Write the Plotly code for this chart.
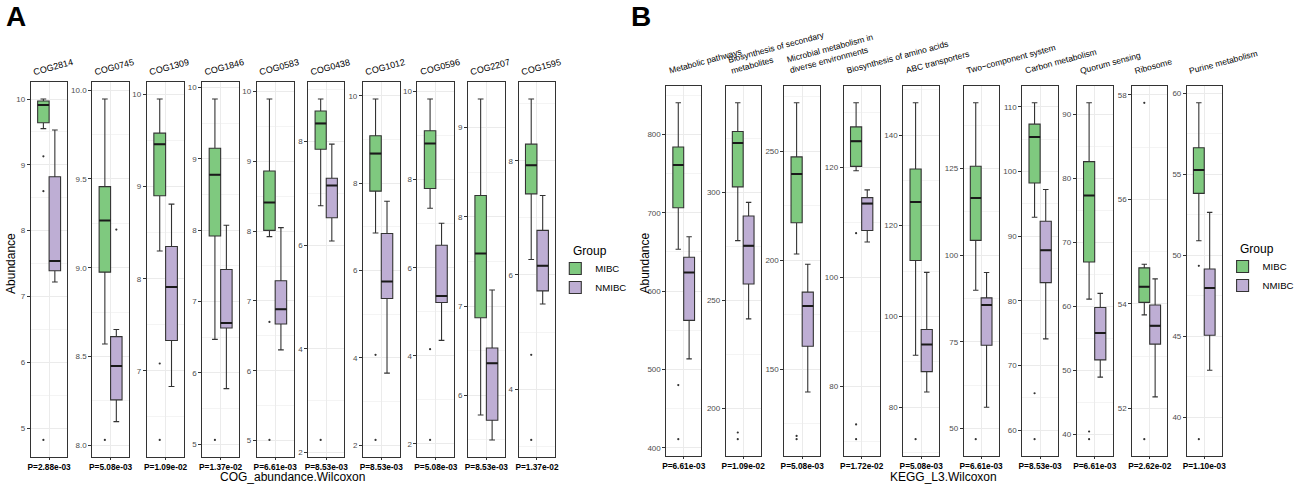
import plotly.graph_objects as go

# ---------------- DATA ----------------
cog_names = ["COG2814", "COG0745", "COG1309", "COG1846", "COG0583",
             "COG0438", "COG1012", "COG0596", "COG2207", "COG1595"]
cog_pvals = ["P=2.88e-03", "P=5.08e-03", "P=1.09e-02", "P=1.37e-02", "P=6.61e-03",
             "P=8.53e-03", "P=8.53e-03", "P=5.08e-03", "P=8.53e-03", "P=1.37e-02"]
cog_ystep = [1, 0.5, 1, 1, 1, 2, 2, 2, 1, 2]

cog_mibc_low = [9.55, 8.57, 8.30, 6.47, 7.92, 6.76, 6.86, 7.35, 5.78, 6.27]
cog_mibc_q1 = [9.64, 8.975, 8.90, 7.92, 8.01, 7.85, 7.82, 7.80, 6.87, 7.42]
cog_mibc_med = [9.91, 9.266, 9.46, 8.78, 8.41, 8.35, 8.68, 8.82, 7.59, 7.92]
cog_mibc_q3 = [9.97, 9.457, 9.58, 9.15, 8.86, 8.59, 9.09, 9.11, 8.24, 8.29]
cog_mibc_high = [10.0, 9.95, 9.95, 9.84, 9.89, 8.82, 9.93, 9.83, 9.32, 9.08]
cog_mibc_out = [[9.13, 8.60, 4.82], [8.03], [7.08, 6.25], [5.06], [6.70, 5.01],
                [2.24], [4.07, 2.12], [4.15, 2.09], [], [4.60, 3.11]]

cog_nmibc_low = [7.22, 8.133, 6.83, 5.78, 6.30, 6.08, 3.65, 4.35, 5.50, 5.49]
cog_nmibc_q1 = [7.39, 8.256, 7.33, 6.63, 6.67, 6.53, 5.36, 5.21, 5.72, 5.72]
cog_nmibc_med = [7.54, 8.447, 7.91, 6.70, 6.88, 7.15, 5.75, 5.36, 6.36, 6.16]
cog_nmibc_q3 = [8.82, 8.612, 8.35, 7.45, 7.29, 7.29, 6.85, 6.51, 6.53, 6.78]
cog_nmibc_high = [9.53, 8.652, 8.81, 8.07, 8.05, 7.95, 7.59, 7.01, 7.18, 7.39]
cog_nmibc_out = [[], [9.215], [], [], [], [], [], [], [], []]

kegg_names = ["Metabolic pathways", "Biosynthesis of secondary<br>metabolites",
              "Microbial metabolism in<br>diverse environments", "Biosynthesis of amino acids",
              "ABC transporters", "Two\u2212component system", "Carbon metabolism",
              "Quorum sensing", "Ribosome", "Purine metabolism"]
kegg_pvals = ["P=6.61e-03", "P=1.09e-02", "P=5.08e-03", "P=1.72e-02", "P=5.08e-03",
              "P=6.61e-03", "P=8.53e-03", "P=6.61e-03", "P=2.62e-02", "P=1.10e-03"]
kegg_ystep = [100, 50, 50, 20, 20, 25, 10, 10, 2, 5]

kegg_mibc_low = [653.5, 277.7, 202.8, 119.4, 91.4, 89.9, 92.9, 61.1, 53.79, 50.9]
kegg_mibc_q1 = [706.4, 302.6, 217.1, 120.2, 112.3, 104.3, 98.2, 66.9, 54.03, 53.82]
kegg_mibc_med = [761.0, 322.9, 239.5, 124.8, 125.2, 116.5, 105.3, 77.3, 54.33, 55.27]
kegg_mibc_q3 = [783.9, 328.2, 247.3, 127.4, 132.5, 125.7, 107.3, 82.6, 54.69, 56.64]
kegg_mibc_high = [840.3, 341.5, 272.1, 131.8, 147.1, 144.0, 110.6, 91.8, 54.76, 59.41]
kegg_mibc_out = [[480.2, 411.2], [188.9, 185.8], [119.4, 117.9], [108.0, 73.1, 70.4],
                 [72.9], [46.9], [65.7, 58.6], [40.4, 39.2], [57.85, 51.41], [49.35, 38.65]]

kegg_nmibc_low = [513.7, 241.5, 139.5, 106.4, 83.3, 56.1, 74.1, 48.9, 52.22, 42.9]
kegg_nmibc_q1 = [562.8, 257.6, 160.5, 108.5, 87.8, 74.0, 82.8, 51.6, 53.23, 45.06]
kegg_nmibc_med = [623.8, 275.3, 178.9, 113.4, 93.8, 85.6, 87.8, 55.8, 53.58, 47.98]
kegg_nmibc_q3 = [643.3, 289.1, 185.3, 114.5, 97.1, 87.7, 92.3, 59.8, 53.98, 49.15]
kegg_nmibc_high = [669.5, 295.4, 198.1, 115.9, 109.7, 95.0, 97.2, 62.0, 54.48, 52.65]
kegg_nmibc_out = [[], [], [], [], [], [], [], [], [], []]

groups = ["MIBC", "NMIBC"]

# ---------------- STYLE / LAYOUT ----------------
W, H = 1299, 484
FONT = "Liberation Sans, Arial, sans-serif"
COLORS = {"MIBC": "#7FC97F", "NMIBC": "#BEAED4"}
EDGE = "#333333"
BOX_W = 0.375
POS = {"MIBC": 1 - BOX_W / 2, "NMIBC": 1 + BOX_W / 2}

A_left = [27, 89, 144, 200, 255, 307, 362, 417, 468, 519]
A_right = [64, 126, 182, 237, 292, 343, 399, 454, 505, 556]
B_left = [668, 728, 787, 847, 907, 968, 1027, 1082, 1138, 1193]
B_right = [703, 763, 823, 883, 943, 1003, 1063, 1118, 1173, 1228]

fig = go.Figure()
layout_axes = {}
annotations = []


def px_x(p):
    return p / W


def px_y(p):
    return 1 - p / H


def add_facet(k, left, right, top, bot, name, pval, step, stats, outs, legend, show, strip_size, strip_gap):
    xn = "x" if k == 1 else f"x{k}"
    yn = "y" if k == 1 else f"y{k}"
    allv = []
    for g in groups:
        lo, q1, med, q3, hi = stats[g]
        allv += [lo, q1, med, q3, hi] + list(outs[g])
        fig.add_trace(go.Box(
            x=[POS[g]], q1=[q1], median=[med], q3=[q3], lowerfence=[lo], upperfence=[hi],
            width=BOX_W, fillcolor=COLORS[g], line=dict(color=EDGE, width=1.1),
            name=g, legendgroup=g, showlegend=show, legend=legend,
            boxpoints=False, hoverinfo="skip", xaxis=xn, yaxis=yn))
        # thicker median bar (ggplot style), from the median value
        fig.add_trace(go.Scatter(
            x=[POS[g] - BOX_W / 2, POS[g] + BOX_W / 2], y=[med, med], mode="lines",
            line=dict(color="#1a1a1a", width=2), showlegend=False,
            hoverinfo="skip", xaxis=xn, yaxis=yn))
        if outs[g]:
            fig.add_trace(go.Scatter(
                x=[POS[g]] * len(outs[g]), y=outs[g], mode="markers",
                marker=dict(size=2.2, color=EDGE), showlegend=False,
                hoverinfo="skip", xaxis=xn, yaxis=yn))
    vmin, vmax = min(allv), max(allv)
    pad = 0.05 * (vmax - vmin)
    fmt = ".1f" if step < 1 else "d"
    layout_axes["xaxis" if k == 1 else f"xaxis{k}"] = dict(
        domain=[px_x(left), px_x(right)], range=[0.4, 1.6], anchor=yn,
        tickmode="array", tickvals=[1], ticktext=[pval],
        ticks="outside", ticklen=2, tickcolor=EDGE, tickwidth=1,
        tickfont=dict(size=8.3, color="black", family=FONT, weight="bold"),
        showgrid=True, gridcolor="#ebebeb", gridwidth=1,
        showline=True, mirror=True, linecolor=EDGE, linewidth=1, zeroline=False)
    layout_axes["yaxis" if k == 1 else f"yaxis{k}"] = dict(
        domain=[px_y(bot), px_y(top)], range=[vmin - pad, vmax + pad], anchor=xn,
        tickmode="linear", tick0=0, dtick=step, tickformat=fmt,
        ticks="outside", ticklen=3, tickcolor=EDGE, tickwidth=1,
        tickfont=dict(size=8, color="#4d4d4d", family=FONT),
        showgrid=True, gridcolor="#ebebeb", gridwidth=1,
        minor=dict(dtick=step / 2, showgrid=True, gridcolor="#f4f4f4", gridwidth=0.6),
        showline=True, mirror=True, linecolor=EDGE, linewidth=1, zeroline=False)
    annotations.append(dict(
        text=name, xref="paper", yref="paper", x=px_x(left - 1), y=px_y(top - strip_gap),
        xanchor="left", yanchor="bottom", align="left", textangle=-15, showarrow=False,
        font=dict(size=strip_size, color="black", family=FONT)))


for i in range(10):
    st = {"MIBC": (cog_mibc_low[i], cog_mibc_q1[i], cog_mibc_med[i], cog_mibc_q3[i], cog_mibc_high[i]),
          "NMIBC": (cog_nmibc_low[i], cog_nmibc_q1[i], cog_nmibc_med[i], cog_nmibc_q3[i], cog_nmibc_high[i])}
    ou = {"MIBC": cog_mibc_out[i], "NMIBC": cog_nmibc_out[i]}
    add_facet(i + 1, A_left[i], A_right[i], 82, 457, cog_names[i], cog_pvals[i], cog_ystep[i],
              st, ou, "legend", i == 0, 9, 2)

for i in range(10):
    st = {"MIBC": (kegg_mibc_low[i], kegg_mibc_q1[i], kegg_mibc_med[i], kegg_mibc_q3[i], kegg_mibc_high[i]),
          "NMIBC": (kegg_nmibc_low[i], kegg_nmibc_q1[i], kegg_nmibc_med[i], kegg_nmibc_q3[i], kegg_nmibc_high[i])}
    ou = {"MIBC": kegg_mibc_out[i], "NMIBC": kegg_nmibc_out[i]}
    add_facet(i + 11, B_left[i], B_right[i], 86, 456, kegg_names[i], kegg_pvals[i], kegg_ystep[i],
              st, ou, "legend2", i == 0, 8.5, 8)


def txt(text, x, y, size, xanchor="center", yanchor="middle", angle=0, bold=False, pad=1):
    annotations.append(dict(
        text=text, xref="paper", yref="paper", x=px_x(x), y=px_y(y),
        xanchor=xanchor, yanchor=yanchor, textangle=angle, showarrow=False, borderpad=pad,
        font=dict(size=size, color="black", family=FONT, weight="bold" if bold else "normal")))


txt("A", 1, 16, 28, xanchor="left", bold=True, pad=0)
txt("B", 631, 16, 28, xanchor="left", bold=True, pad=0)
txt("Abundance", 7, 263, 12, angle=-90)
txt("Abundance", 646, 263, 12, angle=-90)
txt("COG_abundance.Wilcoxon", 291, 477, 12)
txt("KEGG_L3.Wilcoxon", 948, 477, 12)
txt("Group", 572, 251, 12, xanchor="left")
txt("Group", 1245, 249, 12, xanchor="left")

leg_common = dict(xanchor="left", yanchor="top", bgcolor="rgba(0,0,0,0)",
                  font=dict(size=9.6, color="black", family=FONT), tracegroupgap=0,
                  itemwidth=30)
fig.update_layout(
    width=W, height=H, margin=dict(l=0, r=0, t=0, b=0),
    paper_bgcolor="white", plot_bgcolor="white",
    font=dict(family=FONT, color="black"),
    boxmode="overlay",
    legend=dict(x=px_x(556), y=px_y(254), **leg_common),
    legend2=dict(x=px_x(1229), y=px_y(252), **leg_common),
    annotations=annotations,
    **layout_axes,
)

fig.write_html("out.html", config={"displayModeBar": False},
               post_script="document.body.style.margin='0';document.body.style.overflow='hidden';")
